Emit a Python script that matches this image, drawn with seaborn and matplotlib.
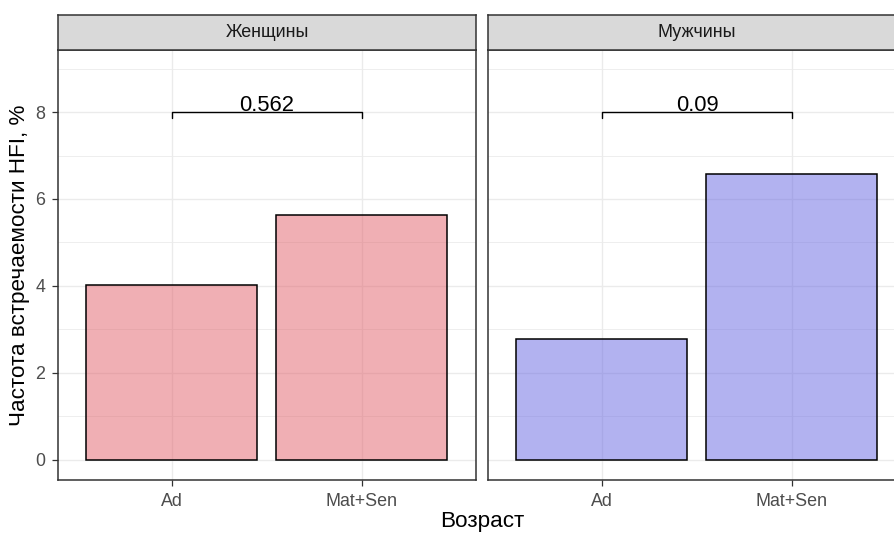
import matplotlib
matplotlib.use("Agg")
import matplotlib.pyplot as plt
import seaborn as sns
import pandas as pd

# Data
sexes = ["Женщины", "Мужчины"]
ages = ["Ad", "Mat+Sen"]
freq_women = [4.02, 5.63]
freq_men = [2.78, 6.57]
p_labels = ["0.562", "0.09"]
bracket_y = 8.0
y_ticks = [0, 2, 4, 6, 8]

fills = ["#E2616A", "#6767E3"]

sns.set_theme(style="white")
plt.rcParams["font.family"] = ["Liberation Sans", "DejaVu Sans"]

W, H = 895, 533
fig = plt.figure(figsize=(W / 100, H / 100), dpi=100)

df = pd.DataFrame({
    "sex": [sexes[0]] * 2 + [sexes[1]] * 2,
    "age": ages * 2,
    "freq": freq_women + freq_men,
})

panel_left = [58, 488]
panel_w = 418
panel_top, panel_bot = 50, 480
strip_top = 15

border = "#333333"
grid_c = "#EBEBEB"

for i, sex in enumerate(sexes):
    x0 = panel_left[i]
    ax = fig.add_axes([x0 / W, (H - panel_bot) / H, panel_w / W, (panel_bot - panel_top) / H])
    sub = df[df["sex"] == sex]
    sns.barplot(data=sub, x="age", y="freq", order=ages, ax=ax, width=0.9,
                color=fills[i], edgecolor="black", linewidth=1.1, errorbar=None, zorder=3)
    for p in ax.patches:
        p.set_facecolor(matplotlib.colors.to_rgba(fills[i], 0.5))
        p.set_edgecolor("black")
    ax.set_xlim(-0.6, 1.6)
    ax.set_ylim(-0.47, 9.43)
    ax.set_yticks(y_ticks)
    ax.set_yticks([1, 3, 5, 7, 9], minor=True)
    ax.grid(True, which="major", color=grid_c, lw=1.0, zorder=0)
    ax.grid(True, which="minor", axis="y", color=grid_c, lw=0.6, zorder=0)
    ax.set_axisbelow(True)
    for s in ax.spines.values():
        s.set_color(border)
        s.set_linewidth(1.1)
        s.set_visible(True)
    ax.set_xlabel("")
    ax.set_ylabel("")
    ax.tick_params(axis="both", which="major", length=4, width=0.9, color=border,
                   labelsize=12.9, labelcolor="#4D4D4D", bottom=True, left=(i == 0))
    ax.tick_params(axis="x", which="major", pad=5.5)
    ax.tick_params(axis="y", which="major", pad=5)
    ax.tick_params(axis="both", which="minor", length=0)
    if i > 0:
        ax.tick_params(axis="y", labelleft=False, left=False)

    # significance bracket
    ax.plot([0, 0, 1, 1], [bracket_y - 0.13, bracket_y, bracket_y, bracket_y - 0.13],
            color="black", lw=1.0, zorder=4, clip_on=False)
    ax.text(0.5, bracket_y + 0.03, p_labels[i], ha="center", va="baseline",
            fontsize=15.8, color="black", zorder=5)

    # facet strip
    sax = fig.add_axes([x0 / W, (H - panel_top) / H, panel_w / W, (panel_top - strip_top) / H])
    sax.set_facecolor("#D9D9D9")
    sax.set_xticks([])
    sax.set_yticks([])
    for s in sax.spines.values():
        s.set_color(border)
        s.set_linewidth(1.1)
    sax.text(0.5, 0.5, sex, ha="center", va="center", fontsize=12.9,
             color="#1A1A1A", transform=sax.transAxes)

fig.text(482 / W, (H - 522) / H, "Возраст", ha="center", va="center",
         fontsize=16.2, color="black")
fig.text(20 / W, (H - 265) / H, "Частота встречаемости HFI, %", ha="center", va="center",
         rotation=90, fontsize=16.2, color="black")

fig.savefig("out.png", dpi=100, facecolor="white")
